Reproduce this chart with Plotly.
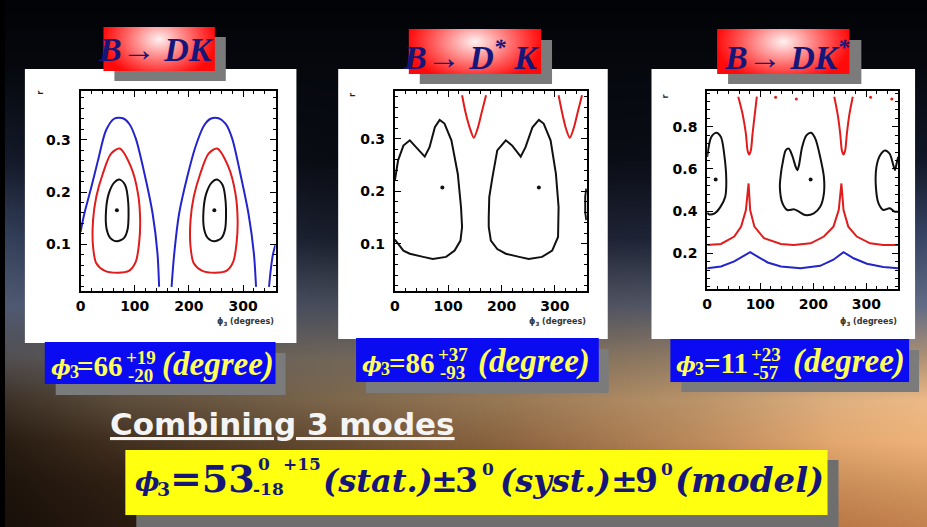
import base64
import struct
import zlib

import numpy as np
import plotly.graph_objects as go

W, H = 927, 527

# ---------------- data (phi3 in degrees, r) ----------------
# B -> DK
dk_black_a_phi = [72, 82, 88, 87, 80, 67, 55, 48, 47, 52, 62, 72]
dk_black_a_r = [0.224, 0.214, 0.180, 0.130, 0.112, 0.106, 0.112, 0.130, 0.165, 0.197, 0.218, 0.224]
dk_black_b_phi = [252, 262, 268, 267, 260, 247, 235, 228, 227, 232, 242, 252]
dk_black_b_r = [0.224, 0.214, 0.180, 0.130, 0.112, 0.106, 0.112, 0.130, 0.165, 0.197, 0.218, 0.224]
dk_red_a_phi = [72, 93, 106, 110, 108, 102, 90, 69, 44, 29, 23, 23, 29, 41, 56, 72]
dk_red_a_r = [0.283, 0.248, 0.197, 0.146, 0.102, 0.067, 0.050, 0.046, 0.050, 0.064, 0.096, 0.146, 0.191, 0.235, 0.273, 0.283]
dk_red_b_phi = [252, 273, 286, 290, 288, 282, 270, 249, 224, 209, 203, 203, 209, 221, 236, 252]
dk_red_b_r = [0.283, 0.248, 0.197, 0.146, 0.102, 0.067, 0.050, 0.046, 0.050, 0.064, 0.096, 0.146, 0.191, 0.235, 0.273, 0.283]
dk_blue_a_phi = [0, 7, 20, 32, 47, 62, 78, 90, 102, 118, 133, 142, 145]
dk_blue_a_r = [0.124, 0.159, 0.210, 0.260, 0.318, 0.340, 0.341, 0.330, 0.302, 0.235, 0.159, 0.083, 0.019]
dk_blue_b_phi = [168, 173, 182, 197, 212, 228, 240, 255, 268, 280, 295, 310, 320, 324]
dk_blue_b_r = [0.019, 0.083, 0.159, 0.229, 0.286, 0.327, 0.340, 0.341, 0.330, 0.302, 0.235, 0.159, 0.083, 0.019]
dk_blue_c_phi = [348, 351, 355, 360]
dk_blue_c_r = [0.019, 0.050, 0.080, 0.100]
dk_best_phi = [67, 247]
dk_best_r = [0.165, 0.165]

# B -> D* K
dsk_black_a_phi = [0, 6, 16, 28, 37, 47, 56, 65, 75, 84, 93, 106, 118, 124, 126, 123, 112, 96, 71, 53, 28, 16, 6, 0]
dsk_black_a_r = [0.221, 0.259, 0.287, 0.297, 0.287, 0.275, 0.266, 0.284, 0.322, 0.336, 0.329, 0.297, 0.233,
                 0.170, 0.132, 0.106, 0.087, 0.075, 0.071, 0.075, 0.081, 0.087, 0.100, 0.108]
dsk_black_b_phi = [176, 177, 183, 192, 208, 220, 236, 245, 258, 270, 279, 292, 302, 307, 306, 295, 276, 251, 233,
                   208, 192, 180, 176, 176]
dsk_black_b_r = [0.151, 0.189, 0.227, 0.278, 0.297, 0.287, 0.266, 0.284, 0.322, 0.336, 0.329, 0.297, 0.233,
                 0.170, 0.113, 0.087, 0.075, 0.071, 0.075, 0.081, 0.090, 0.106, 0.132, 0.151]
dsk_black_c_phi = [359, 357, 357, 359]
dsk_black_c_r = [0.205, 0.190, 0.160, 0.145]
dsk_red_a_phi = [126, 133, 141, 148, 155, 163, 171]
dsk_red_a_r = [0.383, 0.348, 0.319, 0.302, 0.319, 0.351, 0.383]
dsk_red_b_phi = [307, 314, 321, 328, 335, 343, 351]
dsk_red_b_r = [0.383, 0.348, 0.319, 0.302, 0.319, 0.351, 0.383]
dsk_best_phi = [89, 270]
dsk_best_r = [0.207, 0.207]

# B -> DK*
dks_black_a_phi = [0, 7.5, 17, 26, 32, 36, 34, 25, 14, 4, 0]
dks_black_a_r = [0.657, 0.751, 0.772, 0.751, 0.672, 0.546, 0.468, 0.420, 0.389, 0.384, 0.392]
dks_black_b_phi = [142, 148, 154, 160, 167, 170, 173, 179, 187, 196, 204, 213, 220, 220, 213, 201, 185, 173,
                   164, 151, 142, 137, 139, 142]
dks_black_b_r = [0.625, 0.688, 0.696, 0.665, 0.609, 0.594, 0.617, 0.704, 0.759, 0.772, 0.743, 0.657, 0.562,
                 0.483, 0.420, 0.389, 0.381, 0.397, 0.408, 0.405, 0.436, 0.515, 0.578, 0.625]
dks_black_c_phi = [360, 357, 354, 351, 344, 335, 326, 319, 318, 323, 332, 344, 354, 360]
dks_black_c_r = [0.657, 0.625, 0.594, 0.617, 0.672, 0.688, 0.665, 0.609, 0.515, 0.436, 0.405, 0.413, 0.397, 0.397]
dks_red_low_phi = [0, 26, 51, 64, 73, 78, 81, 89, 107, 139, 163, 195, 220, 238, 248, 253, 257, 266, 282, 307, 332, 360]
dks_red_low_r = [0.239, 0.244, 0.279, 0.326, 0.405, 0.531, 0.405, 0.326, 0.271, 0.244, 0.239, 0.247, 0.279,
                 0.326, 0.405, 0.531, 0.405, 0.326, 0.279, 0.247, 0.239, 0.239]
dks_red_up_a_phi = [58.6, 66.7, 73, 76.1, 79.2, 82.3, 85.5, 89.8, 93.6]
dks_red_up_a_r = [0.943, 0.861, 0.767, 0.688, 0.669, 0.688, 0.767, 0.861, 0.943]
dks_red_up_b_phi = [239.6, 245.8, 250.8, 253.9, 257, 260.1, 263.3, 268.2, 274.5]
dks_red_up_b_r = [0.943, 0.861, 0.767, 0.688, 0.669, 0.688, 0.767, 0.861, 0.943]
dks_red_dot_phi = [129, 168, 308, 348]
dks_red_dot_r = [0.940, 0.932, 0.940, 0.932]
dks_blue_phi = [0, 26, 51, 67, 81, 95, 114, 139, 176, 213, 238, 257, 276, 301, 332, 360]
dks_blue_r = [0.129, 0.137, 0.161, 0.184, 0.205, 0.184, 0.156, 0.137, 0.129, 0.140, 0.169, 0.205, 0.176,
              0.150, 0.134, 0.129]
dks_best_phi = [16, 195]
dks_best_r = [0.55, 0.55]

# tick labels / texts
x_ticks = [0, 100, 200, 300]
y_ticks_small = [0.1, 0.2, 0.3]
y_ticks_large = [0.2, 0.4, 0.6, 0.8]
mode_titles = ["B→ DK", "B→ D<sup>*</sup> K", "B→ DK<sup>*</sup>"]
mode_values = ["66", "86", "11"]
mode_err_up = ["+19", "+37", "+23"]
mode_err_dn = ["-20", "-93", "-57"]
comb_value = "53"
comb_sup = "0"
comb_stat_up = "+15"
comb_stat_dn = "-18"
comb_syst = "3"
comb_model = "9"

# ---------------- helpers ----------------
def fx(x):
    return x / W


def fy(y):
    return 1 - y / H


def png_uri(arr):
    arr = np.clip(arr, 0, 255).astype(np.uint8)
    h, w, _ = arr.shape
    raw = b"".join(b"\x00" + arr[i].tobytes() for i in range(h))

    def chunk(t, d):
        c = struct.pack(">I", len(d)) + t + d
        return c + struct.pack(">I", zlib.crc32(t + d) & 0xFFFFFFFF)

    png = (b"\x89PNG\r\n\x1a\n" + chunk(b"IHDR", struct.pack(">IIBBBBB", w, h, 8, 2, 0, 0, 0))
           + chunk(b"IDAT", zlib.compress(raw, 9)) + chunk(b"IEND", b""))
    return "data:image/png;base64," + base64.b64encode(png).decode()


# background (sunset-like slide backdrop)
bg_x = [0, 0.12, 0.35, 0.55, 0.75, 0.9, 1.0]
bg_y = [0, 0.12, 0.30, 0.45, 0.58, 0.68, 0.76, 0.84, 0.92, 1.0]
bg_c = [
    [(2, 3, 6)] * 7,
    [(6, 8, 14)] * 7,
    [(20, 26, 42), (14, 18, 30), (10, 12, 20), (10, 12, 20), (12, 14, 24), (14, 18, 30), (18, 24, 40)],
    [(52, 64, 90), (36, 46, 66), (26, 31, 46), (30, 35, 50), (30, 36, 55), (40, 50, 75), (58, 70, 102)],
    [(80, 90, 115), (72, 80, 102), (72, 77, 92), (78, 80, 94), (82, 87, 102), (88, 98, 122), (98, 108, 134)],
    [(82, 80, 82), (96, 91, 86), (112, 102, 90), (124, 108, 90), (146, 124, 100), (166, 140, 112), (176, 146, 118)],
    [(62, 50, 40), (92, 77, 60), (124, 102, 76), (154, 122, 86), (186, 148, 106), (222, 176, 128), (236, 186, 134)],
    [(40, 28, 18), (66, 48, 32), (102, 76, 50), (142, 102, 66), (188, 138, 92), (228, 168, 112), (238, 178, 122)],
    [(30, 20, 12), (48, 32, 20), (82, 56, 35), (122, 82, 46), (172, 116, 70), (202, 142, 90), (212, 152, 96)],
    [(25, 16, 10), (40, 26, 16), (70, 45, 28), (110, 70, 38), (160, 100, 55), (186, 120, 70), (196, 130, 80)],
]


def background(w=464, h=264):
    cols = np.array(bg_c, float)
    xs = np.linspace(0, 1, w)
    ys = np.linspace(0, 1, h)
    rows = np.stack([np.stack([np.interp(xs, bg_x, cols[j, :, c]) for c in range(3)], -1)
                     for j in range(len(bg_y))])
    by = np.array(bg_y)
    idx = np.clip(np.searchsorted(by, ys, side="right") - 1, 0, len(by) - 2)
    t = ((ys - by[idx]) / (by[idx + 1] - by[idx]))[:, None, None]
    return rows[idx] * (1 - t) + rows[idx + 1] * t


def red_glow(w=140, h=55):
    xs = np.linspace(0, 1, w)[None, :]
    ys = np.linspace(0, 1, h)[:, None]
    d = np.sqrt(((xs - 0.5) / 0.52) ** 2 + ((ys - 0.28) / 0.95) ** 2)
    wgt = np.clip(1 - d, 0, 1) ** 1.1 * 0.97
    red = np.array([255, 10, 10], float)
    white = np.array([255, 250, 250], float)
    return red * (1 - wgt[..., None]) + white * wgt[..., None]


SERIF = "DejaVu Serif"
TIMES = "Liberation Serif"
SANS = "DejaVu Sans"
NAVY = "#16167a"
YEL = "#ffff55"


def ann(text, x, ymid, size, color, family, anchor="left", italic=True, bold=True, angle=0, underline=False):
    font = dict(family=family, size=size, color=color, weight="bold" if bold else "normal",
                style="italic" if italic else "normal")
    if underline:
        font["lineposition"] = "under"
    return dict(text=text, x=fx(x), y=fy(ymid), xref="paper", yref="paper", xanchor=anchor,
                yanchor="middle", showarrow=False, font=font, textangle=angle, borderpad=0)


# ---------------- figure ----------------
fig = go.Figure()


def add_line(phi, r, color, ax, shape="linear"):
    fig.add_trace(go.Scatter(x=phi, y=r, mode="lines", xaxis="x" + ax, yaxis="y" + ax,
                             line=dict(color=color, width=2, shape=shape, smoothing=0.8),
                             hoverinfo="skip", showlegend=False))


def add_dots(phi, r, color, ax, size=4):
    fig.add_trace(go.Scatter(x=phi, y=r, mode="markers", xaxis="x" + ax, yaxis="y" + ax,
                             marker=dict(color=color, size=size), hoverinfo="skip", showlegend=False))


BLK, RED, BLU = "#111111", "#e01c1c", "#2424cc"
# panel 1
add_line(dk_blue_a_phi, dk_blue_a_r, BLU, "", "spline")
add_line(dk_blue_b_phi, dk_blue_b_r, BLU, "", "spline")
add_line(dk_blue_c_phi, dk_blue_c_r, BLU, "", "spline")
add_line(dk_red_a_phi, dk_red_a_r, RED, "", "spline")
add_line(dk_red_b_phi, dk_red_b_r, RED, "", "spline")
add_line(dk_black_a_phi, dk_black_a_r, BLK, "", "spline")
add_line(dk_black_b_phi, dk_black_b_r, BLK, "", "spline")
add_dots(dk_best_phi, dk_best_r, BLK, "")
# panel 2
add_line(dsk_black_a_phi, dsk_black_a_r, BLK, "2")
add_line(dsk_black_b_phi, dsk_black_b_r, BLK, "2")
add_line(dsk_black_c_phi, dsk_black_c_r, BLK, "2")
add_line(dsk_red_a_phi, dsk_red_a_r, RED, "2", "spline")
add_line(dsk_red_b_phi, dsk_red_b_r, RED, "2", "spline")
add_dots(dsk_best_phi, dsk_best_r, BLK, "2")
# panel 3
add_line(dks_blue_phi, dks_blue_r, BLU, "3")
add_line(dks_red_low_phi, dks_red_low_r, RED, "3")
add_line(dks_red_up_a_phi, dks_red_up_a_r, RED, "3", "spline")
add_line(dks_red_up_b_phi, dks_red_up_b_r, RED, "3", "spline")
add_dots(dks_red_dot_phi, dks_red_dot_r, RED, "3", 3)
add_line(dks_black_a_phi, dks_black_a_r, BLK, "3", "spline")
add_line(dks_black_b_phi, dks_black_b_r, BLK, "3", "spline")
add_line(dks_black_c_phi, dks_black_c_r, BLK, "3", "spline")
add_dots(dks_best_phi, dks_best_r, BLK, "3")

tickfont = dict(family=SANS, size=14, color="black", weight="bold")


def xax(x0, x1, anchor):
    return dict(domain=[fx(x0), fx(x1)], range=[0, 360], anchor=anchor, tickvals=x_ticks,
                showline=True, linewidth=2, linecolor="black", mirror="allticks", ticks="inside",
                ticklen=6, tickcolor="black", showgrid=False, zeroline=False, tickfont=tickfont,
                ticklabelstandoff=1,
                minor=dict(ticks="inside", ticklen=3, dtick=20, tick0=0, tickcolor="black", showgrid=False),
                fixedrange=True)


def yax(y0, y1, rng, vals, mdt, anchor):
    return dict(domain=[fy(y1), fy(y0)], range=rng, anchor=anchor, tickvals=vals,
                showline=True, linewidth=2, linecolor="black", mirror="allticks", ticks="inside",
                ticklen=6, tickcolor="black", showgrid=False, zeroline=False, tickfont=tickfont,
                ticklabelstandoff=5,
                minor=dict(ticks="inside", ticklen=3, dtick=mdt, tick0=0, tickcolor="black", showgrid=False),
                fixedrange=True)


# panel pixel frames
P1 = (76, 91, 272, 291)
P2 = (392, 91, 585, 291)
P3 = (706, 91, 898, 289)

shapes = []


def rect(x0, y0, x1, y1, color, layer="below"):
    shapes.append(dict(type="rect", xref="paper", yref="paper", x0=fx(x0), x1=fx(x1), y0=fy(y1), y1=fy(y0),
                       fillcolor=color, line=dict(width=0), layer=layer))


# white panels
rect(20, 69, 293, 343, "white")
rect(335, 69, 606, 339, "white")
rect(650, 69, 915, 339, "white")
# shadows of title boxes
GRAY = "#7b7b7b"
rect(110, 37, 222, 81, GRAY)
rect(417, 40, 550, 84, GRAY)
rect(727, 40, 861, 84, GRAY)
# value boxes with shadows
rect(51, 353, 282, 395, GRAY)
rect(363, 349, 607, 393, GRAY)
rect(680, 350, 919, 392, GRAY)
rect(40, 342, 272, 384, "#0b0bf2")
rect(353, 338, 597, 382, "#0b0bf2")
rect(669, 339, 909, 382, "#0b0bf2")
# combined result box
rect(132, 460, 838, 527, "#6e6e6e")
rect(121, 450, 827, 515, "#ffff10")

glow = png_uri(red_glow())
images = [dict(source=png_uri(background()), xref="paper", yref="paper", x=0, y=1, sizex=1, sizey=1,
               sizing="stretch", layer="below", xanchor="left", yanchor="top")]
for (x0, y0, x1, y1) in [(99, 27, 211, 71), (406, 29, 539, 74), (716, 29, 849, 74)]:
    images.append(dict(source=glow, xref="paper", yref="paper", x=fx(x0), y=fy(y0), sizex=(x1 - x0) / W,
                       sizey=(y1 - y0) / H, sizing="stretch", layer="above", xanchor="left", yanchor="top"))

anns = []
# mode titles
for t, cx, cy in zip(mode_titles, [152, 469, 786], [49, 55, 55]):
    anns.append(ann(t, cx, cy, 34, NAVY, TIMES, anchor="center"))
# r labels and x-axis titles
for (px0, py0), (tx, ty) in zip([(35, 93), (349, 95), (665, 96)], [(271, 322), (585, 322), (898, 322)]):
    anns.append(ann("r", px0, py0, 8, "#222", SANS, anchor="center", italic=False, angle=-90))
    anns.append(ann("ϕ<sub>3</sub> (degrees)", tx, ty, 8, "#333", SANS, anchor="right", italic=False))

# phi3 results of single modes
blue_pos = [
    dict(phi=45, sub=64, eq=120, up=121, dn=123, deg=271, base=376),
    dict(phi=358, sub=377, eq=433, up=434, dn=436, deg=589, base=373),
    dict(phi=674, sub=693, eq=748, up=749, dn=751, deg=906, base=373),
]
for v, eu, ed, p in zip(mode_values, mode_err_up, mode_err_dn, blue_pos):
    b = p["base"]
    anns.append(ann("ϕ", p["phi"], b - 9, 21, YEL, SERIF))
    anns.append(ann("3", p["sub"], b - 4, 18, YEL, TIMES, italic=False))
    anns.append(ann("=" + v, p["eq"], b - 0.34 * 29, 29, YEL, TIMES, anchor="right", italic=False))
    anns.append(ann(eu, p["up"], b - 19, 19, YEL, TIMES, italic=False))
    anns.append(ann(ed, p["dn"], b - 1, 19, YEL, TIMES, italic=False))
    anns.append(ann("(degree)", p["deg"], b - 0.34 * 33, 33, YEL, TIMES, anchor="right"))

anns.append(ann("Combining 3 modes", 105, 435 - 0.35 * 31, 31, "#f4f4f4", SANS, italic=False, underline=True))

# combined result
yb = 492
comb = [
    ("ϕ", 130, yb - 10, 26, "left", True),
    ("3", 152, yb - 3, 19, "left", False),
    ("=" + comb_value, 252, yb - 0.346 * 38, 38, "right", False),
    (comb_sup, 253, 464, 17, "left", False),
    (comb_stat_dn, 248, 489, 17, "left", False),
    (comb_stat_up, 278, 464, 17, "left", False),
    ("(stat.)", 319, yb - 0.346 * 32, 32, "left", True),
    ("±", 442, yb - 0.346 * 32, 32, "center", False),
    (comb_syst, 477, yb - 0.346 * 33, 33, "right", False),
    (comb_sup, 479, 469, 17, "left", False),
    ("(syst.)", 497, yb - 0.346 * 32, 32, "left", True),
    ("±", 623, yb - 0.346 * 32, 32, "center", False),
    (comb_model, 658, yb - 0.346 * 33, 33, "right", False),
    (comb_sup, 659, 469, 17, "left", False),
    ("(model)", 824, yb - 0.346 * 34, 34, "right", True),
]
for t, x, y, s, a, it in comb:
    anns.append(ann(t, x, y, s, NAVY, SERIF, anchor=a, italic=it))

fig.update_layout(
    width=W, height=H, margin=dict(l=0, r=0, t=0, b=0), autosize=False,
    paper_bgcolor="#000000", plot_bgcolor="rgba(0,0,0,0)", showlegend=False,
    xaxis=xax(P1[0], P1[2], "y"), yaxis=yax(P1[1], P1[3], [0.011, 0.393], y_ticks_small, 0.02, "x"),
    xaxis2=xax(P2[0], P2[2], "y2"), yaxis2=yax(P2[1], P2[3], [0.010, 0.391], y_ticks_small, 0.02, "x2"),
    xaxis3=xax(P3[0], P3[2], "y3"), yaxis3=yax(P3[1], P3[3], [0.03, 0.97], y_ticks_large, 0.04, "x3"),
    shapes=shapes, images=images, annotations=anns,
)

fig.write_html("out.html")
